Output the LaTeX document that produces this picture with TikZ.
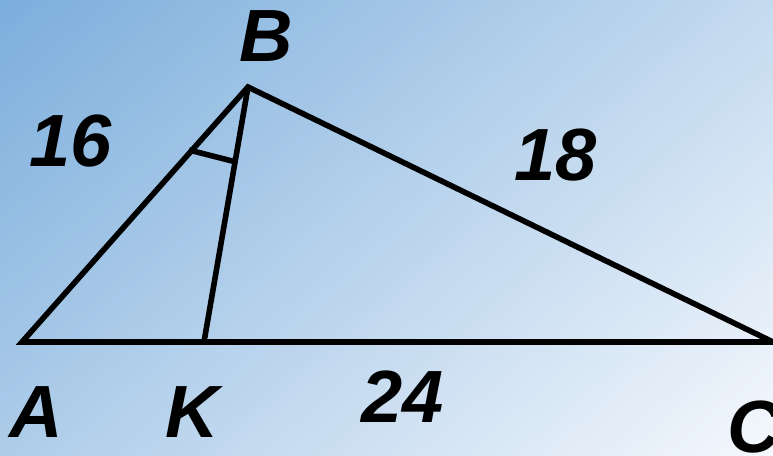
\documentclass[tikz,border=0pt]{standalone}
\usepackage{fontspec}
\setmainfont{Liberation Sans}
\definecolor{bgA}{RGB}{124,174,220}
\definecolor{bgB}{RGB}{246,249,253}
\begin{document}
\begin{tikzpicture}[x=1pt,y=-1pt,
  edge/.style={line width=5.6pt, line join=miter},
  lbl/.style={font=\fontsize{74}{80}\selectfont\bfseries\itshape, inner sep=0pt, anchor=center}]
\useasboundingbox (0,0) rectangle (773,455);
\begin{scope}
  \clip (0,0) rectangle (773,455);
  \begin{scope}[rotate=-49.1]
    \foreach \i in {0,...,171}{
      \pgfmathsetmacro\pct{min(100,(\i*5+2.5)/858*100)}
      \fill[bgB!\pct!bgA] (\i*5,-1200) rectangle (\i*5+5.6,1200);
    }
  \end{scope}
\end{scope}
\coordinate (A) at (22,342);
\coordinate (B) at (248,87);
\coordinate (C) at (773,342);
\coordinate (K) at (204,342);
\coordinate (T1) at (189,150);
\coordinate (T2) at (236,162);
\draw[edge] (A) -- (B) -- (C) -- cycle;
\draw[edge] (B) -- (K);
\draw[edge] (T1) -- (T2);
\node[lbl] (lB) at (266,36) {B};
\node[lbl] (lA) at (36,412) {A};
\node[lbl] (lK) at (192,412) {K};
\node[lbl] (lC) at (754,427) {C};
\node[lbl] (l16) at (71,141) {16};
\node[lbl] (l18) at (556,155) {18};
\node[lbl] (l24) at (403,397) {24};
\end{tikzpicture}
\end{document}
